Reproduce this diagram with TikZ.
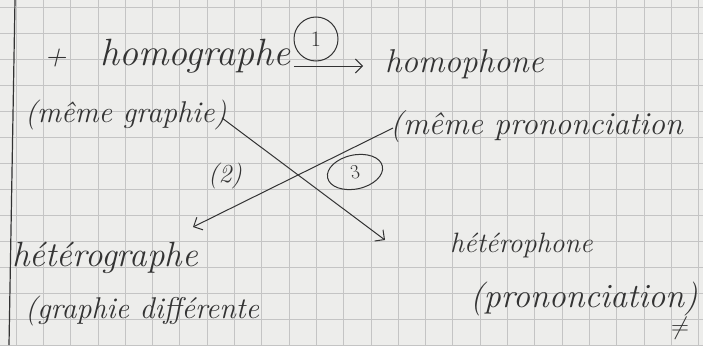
\documentclass[tikz,border=0pt]{standalone}
\usetikzlibrary{arrows.meta,shapes.geometric}
\definecolor{paper}{HTML}{EDEDEB}
\definecolor{gridc}{HTML}{C4C4C4}
\definecolor{ink}{HTML}{333333}
\begin{document}
\begin{tikzpicture}[x=1pt,y=-1pt,
  hand/.style={anchor=base west,inner sep=0pt,text=ink,font=\itshape},
  link/.style={draw=ink,line width=1pt,-{Straight Barb[length=7pt,width=14pt]}},
  ring/.style={draw=ink,line width=1pt,text=ink,inner sep=1pt}]
\fill[paper] (0,0) rectangle (703,345);
\useasboundingbox (0,0) rectangle (703,345);
\foreach \i in {0,...,26} \draw[gridc,line width=0.8pt] (16+27.3*\i,0) -- (16+27.3*\i,345);
\foreach \j in {0,...,13} \draw[gridc,line width=0.8pt] (0,7+26*\j) -- (703,7+26*\j);
\draw[ink,line width=1.2pt] (15,0) -- (9,345);
% texts
\node[hand,font=\itshape\fontsize{30}{30}\selectfont] (plus) at (44,65) {+};
\node[hand,font=\itshape\fontsize{38}{38}\selectfont] (homographe) at (100,65) {homographe};
\node[ring,circle,minimum size=44pt,font=\fontsize{22}{22}\selectfont] (n1) at (316,39) {1};
\node[hand,font=\itshape\fontsize{33}{33}\selectfont] (homophone) at (385,72) {homophone};
\node[hand,font=\itshape\fontsize{30}{30}\selectfont] (memegraphie) at (25,122) {(même graphie)};
\node[hand,font=\itshape\fontsize{32}{32}\selectfont] (memepron) at (390,134) {(même prononciation};
\node[hand,font=\itshape\fontsize{26}{26}\selectfont] (n2) at (208,182) {(2)};
\node[ring,ellipse,rotate=12,minimum width=56pt,minimum height=34pt,font=\fontsize{20}{20}\selectfont] (n3) at (355,172) {3};
\node[hand,font=\itshape\fontsize{35}{35}\selectfont] (heterographe) at (12,266) {hétérographe};
\node[hand,font=\itshape\fontsize{30}{30}\selectfont] (graphdiff) at (25,318) {(graphie différente};
\node[hand,font=\itshape\fontsize{28}{28}\selectfont] (heterophone) at (450,252) {hétérophone};
\node[hand,font=\itshape\fontsize{34}{34}\selectfont] (pron) at (470,307) {(prononciation)};
\node[text=ink,inner sep=0pt,font=\fontsize{26}{26}\selectfont] (neq) at (680,328) {$\neq$};
% connector end points
\coordinate (g1) at (222,118);
\coordinate (g2) at (385,240);
\coordinate (p1) at (393,128);
\coordinate (p2) at (193,227);
\coordinate (h1) at ([xshift=3pt,yshift=-1pt]homographe.base east);
\draw[link,shorten >=22pt] (h1) -- (h1 -| homophone.west);
\draw[link] (g1) -- (g2);
\draw[link] (p1) -- (p2);
\end{tikzpicture}
\end{document}
